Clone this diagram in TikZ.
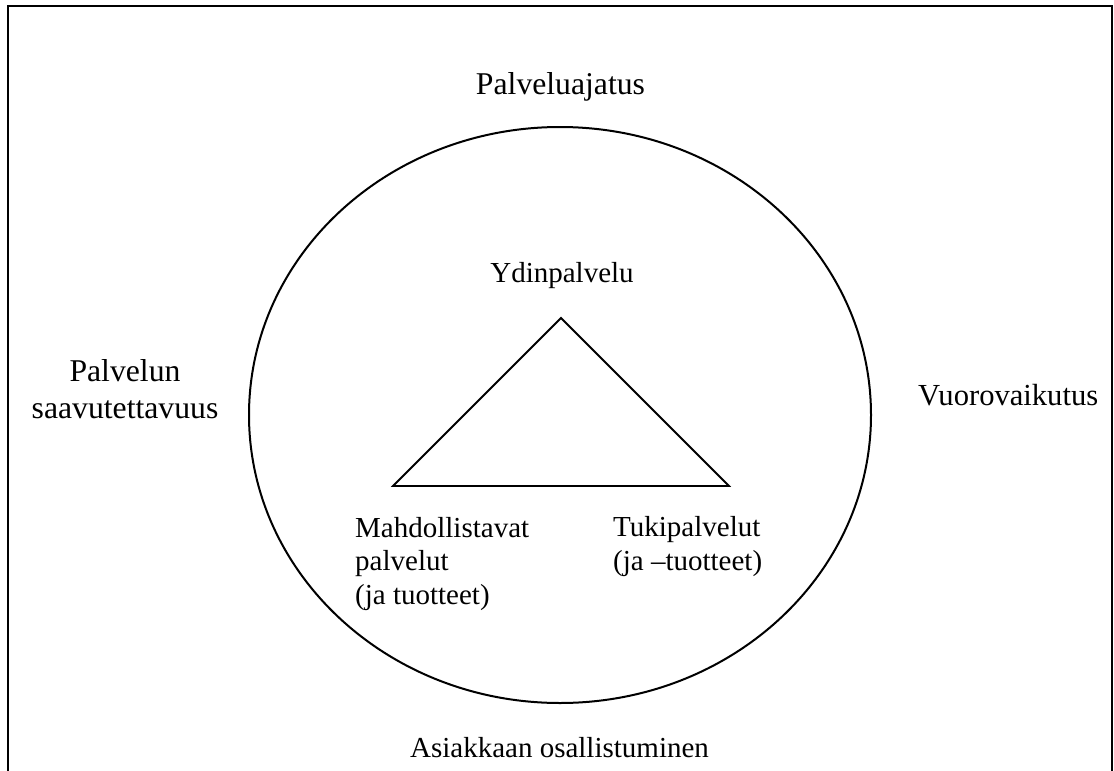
\documentclass[tikz,border=0pt]{standalone}
\usepackage{fontspec}
\setmainfont{Liberation Serif}
\begin{document}
\begin{tikzpicture}[x=1pt,y=-1pt,
  txt/.style={inner sep=0pt,font=\fontsize{29}{33.4}\selectfont},
  bigtxt/.style={inner sep=0pt,font=\fontsize{31.7}{36.5}\selectfont},
  frameline/.style={line width=2.2pt},
  outline/.style={line width=2pt}]
  \useasboundingbox (0,0) rectangle (1114,771);
  % open frame, its lower edge falls below the page
  \draw[frameline] (8,780) -- (8,6) -- (1112,6) -- (1112,780);
  % outer ellipse
  \draw[outline] (560,415) ellipse [x radius=311pt, y radius=288pt];
  % service triangle
  \coordinate (top) at (561,318);
  \coordinate (bl) at (393,486);
  \coordinate (br) at (729,486);
  \draw[outline, line width=1.8pt, line join=miter] (top) -- (bl) -- (br) -- cycle;
  % labels (multi-line nodes are anchored on their last baseline)
  \node[bigtxt, anchor=base] (idea) at (560.5,94) {Palveluajatus};
  \node[txt, anchor=base] (core) at (562,282) {Ydinpalvelu};
  \node[bigtxt, anchor=base, align=center] (access) at (125,418) {Palvelun\\saavutettavuus};
  \node[txt, font=\fontsize{30.6}{35}\selectfont, anchor=base west] (inter) at (918,405) {Vuorovaikutus};
  \node[txt, anchor=base west, align=left] (enab) at (355,604) {Mahdollistavat\\palvelut\\(ja tuotteet)};
  \node[txt, anchor=base west, align=left] (supp) at (613,570) {Tukipalvelut\\(ja –tuotteet)};
  \node[txt, anchor=base] (cust) at (559.5,757) {Asiakkaan osallistuminen};
\end{tikzpicture}
\end{document}
